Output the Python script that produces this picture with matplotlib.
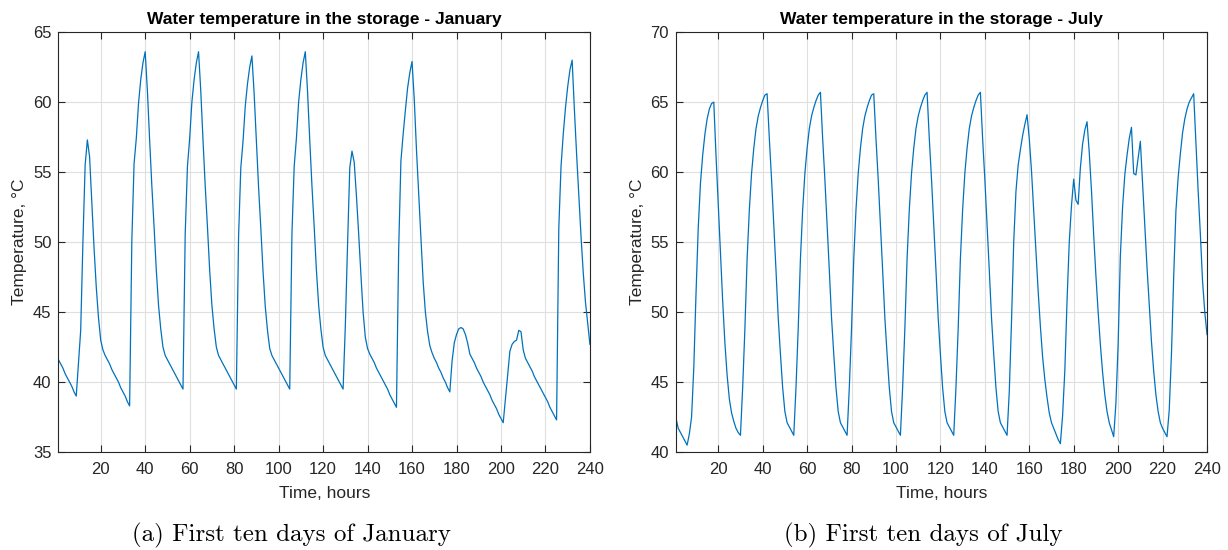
import numpy as np
import matplotlib
matplotlib.use("Agg")
import matplotlib.pyplot as plt

# hourly storage temperature over the first ten days (hours 1..240)
hours = np.arange(1, 241)

temp_jan = [
    41.6, 41.3, 41.0, 40.6, 40.3, 40.0, 39.7, 39.3, 39.0, 41.4,
    43.7, 50.0, 55.5, 57.3, 56.1, 52.8, 49.6, 46.8, 44.6, 43.0,
    42.3, 41.9, 41.6, 41.3, 40.9, 40.6, 40.3, 40.0, 39.6, 39.3,
    39.0, 38.6, 38.3, 50.1, 55.6, 57.4, 59.9, 61.6, 62.8, 63.6,
    60.8, 57.3, 54.0, 51.1, 48.0, 45.5, 43.8, 42.5, 41.9, 41.6,
    41.3, 41.0, 40.7, 40.4, 40.1, 39.8, 39.5, 50.6, 55.4, 57.4,
    60.0, 61.6, 62.8, 63.6, 60.8, 57.3, 54.0, 51.1, 48.0, 45.5,
    43.8, 42.5, 41.9, 41.6, 41.3, 41.0, 40.7, 40.4, 40.1, 39.8,
    39.5, 50.4, 55.3, 57.2, 59.7, 61.3, 62.5, 63.3, 60.6, 57.2,
    53.9, 51.0, 47.9, 45.4, 43.7, 42.4, 41.9, 41.6, 41.3, 41.0,
    40.7, 40.4, 40.1, 39.8, 39.5, 50.6, 55.4, 57.4, 60.0, 61.6,
    62.8, 63.6, 60.8, 57.3, 54.0, 51.1, 48.0, 45.5, 43.8, 42.5,
    41.9, 41.6, 41.3, 41.0, 40.7, 40.4, 40.1, 39.8, 39.5, 44.0,
    49.8, 55.3, 56.5, 55.7, 53.3, 50.6, 47.7, 45.0, 43.2, 42.4,
    42.0, 41.7, 41.4, 41.0, 40.7, 40.4, 40.1, 39.8, 39.5, 39.1,
    38.8, 38.5, 38.2, 49.5, 55.8, 57.7, 59.4, 61.0, 62.1, 62.9,
    60.2, 56.6, 53.4, 50.3, 47.2, 45.0, 43.6, 42.6, 42.1, 41.7,
    41.4, 41.0, 40.7, 40.3, 40.0, 39.6, 39.3, 41.5, 42.8, 43.4,
    43.8, 43.9, 43.8, 43.4, 42.8, 42.0, 41.7, 41.4, 41.0, 40.7,
    40.4, 40.0, 39.7, 39.4, 39.1, 38.7, 38.4, 38.1, 37.7, 37.4,
    37.1, 38.8, 40.5, 42.2, 42.7, 42.9, 43.0, 43.7, 43.6, 42.3,
    41.7, 41.4, 41.1, 40.8, 40.4, 40.1, 39.8, 39.5, 39.2, 38.9,
    38.6, 38.2, 37.9, 37.6, 37.3, 51.0, 55.4, 57.7, 59.6, 61.1,
    62.3, 63.0, 59.5, 56.3, 53.3, 50.4, 47.8, 45.7, 44.2, 42.7,
]

temp_jul = [
    42.4, 41.7, 41.4, 41.1, 40.8, 40.5, 41.3, 42.5, 46.0, 51.3,
    56.0, 59.2, 61.2, 62.7, 63.8, 64.5, 64.9, 65.0, 61.2, 57.7,
    54.2, 50.8, 47.8, 45.5, 43.8, 42.8, 42.2, 41.7, 41.4, 41.2,
    44.6, 48.8, 53.8, 57.3, 59.9, 61.7, 63.1, 64.0, 64.6, 65.1,
    65.5, 65.6, 62.4, 59.5, 56.3, 53.0, 49.6, 47.0, 44.6, 42.9,
    42.1, 41.8, 41.5, 41.2, 44.6, 48.8, 53.8, 57.3, 59.9, 61.7,
    63.1, 64.0, 64.6, 65.1, 65.5, 65.7, 62.4, 59.5, 56.3, 53.0,
    49.6, 47.0, 44.6, 42.9, 42.1, 41.8, 41.5, 41.2, 44.6, 48.8,
    53.8, 57.3, 59.9, 61.7, 63.1, 64.0, 64.6, 65.1, 65.5, 65.6,
    62.4, 59.5, 56.3, 53.0, 49.6, 47.0, 44.6, 42.9, 42.1, 41.8,
    41.5, 41.2, 44.6, 48.8, 53.8, 57.3, 59.9, 61.7, 63.1, 64.0,
    64.6, 65.1, 65.5, 65.7, 62.4, 59.5, 56.3, 53.0, 49.6, 47.0,
    44.6, 42.9, 42.1, 41.8, 41.5, 41.2, 44.6, 48.8, 53.8, 57.3,
    59.9, 61.7, 63.1, 64.0, 64.6, 65.1, 65.5, 65.7, 62.4, 59.5,
    56.3, 53.0, 49.6, 47.0, 44.6, 42.9, 42.1, 41.8, 41.5, 41.2,
    44.3, 49.3, 55.0, 58.6, 60.5, 61.6, 62.6, 63.4, 64.1, 62.4,
    60.1, 57.2, 54.3, 51.5, 49.0, 46.8, 45.2, 43.9, 42.8, 42.1,
    41.7, 41.3, 40.9, 40.6, 42.6, 45.8, 50.8, 55.0, 57.6, 59.5,
    58.0, 57.7, 60.3, 62.0, 63.0, 63.6, 61.4, 58.7, 55.5, 52.6,
    50.0, 47.7, 45.7, 44.1, 42.9, 42.1, 41.6, 41.1, 43.5, 47.7,
    54.0, 57.5, 59.8, 61.2, 62.4, 63.2, 59.9, 59.8, 61.0, 62.2,
    59.2, 56.2, 53.2, 50.5, 47.9, 45.8, 44.1, 42.9, 42.1, 41.7,
    41.4, 41.1, 43.0, 47.0, 52.5, 57.2, 59.6, 61.3, 62.8, 63.8,
    64.5, 65.0, 65.3, 65.6, 62.2, 58.7, 55.6, 52.2, 50.0, 48.4,
]

titles = ["Water temperature in the storage - January",
          "Water temperature in the storage - July"]
captions = ["(a) First ten days of January", "(b) First ten days of July"]
ylims = [(35, 65), (40, 70)]
xticks = np.arange(20, 241, 20)

plt.rcParams['font.family'] = ['Liberation Sans', 'DejaVu Sans']

fig = plt.figure(figsize=(12.28, 5.5), dpi=100)
boxes = [[0.0476, 0.178, 0.4328, 0.7636], [0.5505, 0.178, 0.4324, 0.7636]]
caption_x = [0.237, 0.7516]
dark = '#262626'

for i, temp in enumerate([temp_jan, temp_jul]):
    ax = fig.add_axes(boxes[i])
    ax.plot(hours, temp, color='#0072BD', lw=0.9)
    ax.set_xlim(1, 240)
    ax.set_ylim(*ylims[i])
    ax.set_xticks(xticks)
    ax.set_yticks(np.arange(ylims[i][0], ylims[i][1] + 1, 5))
    ax.grid(True, color='#dfdfdf', lw=0.8)
    ax.set_axisbelow(True)
    ax.tick_params(direction='in', top=True, right=True, length=5,
                   width=0.8, labelsize=12, colors=dark)
    ax.tick_params(axis='x', pad=7)
    ax.tick_params(axis='y', pad=5)
    for s in ax.spines.values():
        s.set_color(dark)
        s.set_linewidth(0.8)
    ax.set_title(titles[i], fontsize=12.5, fontweight='bold', pad=6)
    ax.set_xlabel("Time, hours", fontsize=12.5, color=dark, labelpad=6.5)
    ax.set_ylabel("Temperature, °C", fontsize=12.5, color=dark, labelpad=4)
    # subfigure caption under each panel
    fig.text(caption_x[i], 0.027, captions[i], ha='center', va='center',
             fontsize=18, family=['cmr10', 'DejaVu Serif'])

plt.savefig("out.png", dpi=100)
